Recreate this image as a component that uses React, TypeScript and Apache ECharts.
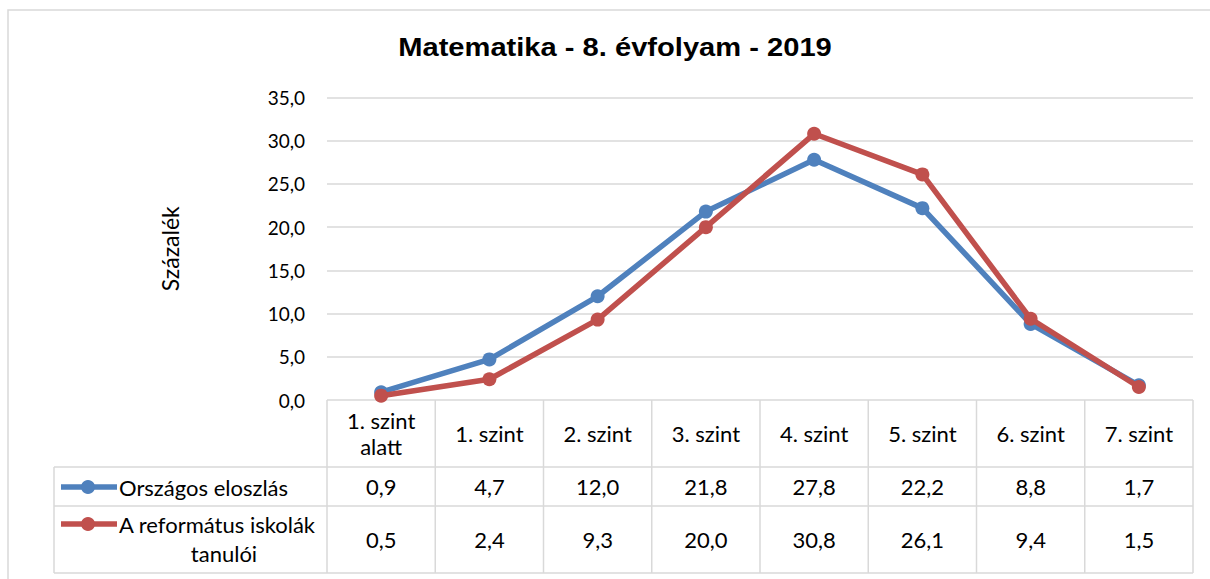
import React, { useEffect, useRef } from 'react';
import * as echarts from 'echarts';

const title = 'Matematika - 8. évfolyam - 2019';
const yAxisName = 'Százalék';
const categories = ['1. szint\nalatt', '1. szint', '2. szint', '3. szint', '4. szint', '5. szint', '6. szint', '7. szint'];
const seriesNames = ['Országos eloszlás', 'A református iskolák tanulói'];
const legendLines = [['Országos eloszlás'], ['A református iskolák', 'tanulói']];
const orszagos = [0.9, 4.7, 12.0, 21.8, 27.8, 22.2, 8.8, 1.7];
const reformatus = [0.5, 2.4, 9.3, 20.0, 30.8, 26.1, 9.4, 1.5];
const seriesColors = ['#4F81BD', '#C0504D'];
const yMin = 0;
const yMax = 35;
const yInterval = 5;

const FONT = 'Lato, "Open Sans", sans-serif';
const GRID = '#D9D9D9';
const TFS = 22;
const fmt = (v: number) => v.toFixed(1).replace('.', ',');

export default function App() {
  const ref = useRef<HTMLDivElement>(null);
  useEffect(() => {
    if (!ref.current) return;
    const chart = echarts.init(ref.current, null, { renderer: 'svg' });
    const allData = [orszagos, reformatus];
    chart.setOption({
      animation: false,
      backgroundColor: '#fff',
      grid: { left: 327, right: 17, top: 97.5, bottom: 179 },
      xAxis: {
        type: 'category',
        data: categories,
        boundaryGap: true,
        axisLine: { show: false },
        axisTick: { show: false },
        axisLabel: { show: false },
        splitLine: { show: false },
      },
      yAxis: {
        type: 'value',
        min: yMin,
        max: yMax,
        interval: yInterval,
        name: yAxisName,
        nameLocation: 'middle',
        nameGap: 146,
        nameRotate: 90,
        nameTextStyle: { fontFamily: FONT, fontSize: 23, color: '#000' },
        axisLine: { show: false },
        axisTick: { show: false },
        axisLabel: { formatter: (v: number) => fmt(v), fontFamily: FONT, fontSize: 19, color: '#000', margin: 22 },
        splitLine: { lineStyle: { color: GRID, width: 1.5 } },
      },
      series: allData.map((d, i) => ({
        name: seriesNames[i],
        type: 'line',
        data: d,
        symbol: 'circle',
        symbolSize: 14,
        lineStyle: { width: 5.5, color: seriesColors[i] },
        itemStyle: { color: seriesColors[i] },
        z: 2 + i,
      })),
    });

    const xs = categories.map((_, i) => chart.convertToPixel({ xAxisIndex: 0 }, i) as number);
    const half = (xs[1] - xs[0]) / 2;
    const y0 = chart.convertToPixel({ yAxisIndex: 0 }, 0) as number;
    const left = xs[0] - half;
    const right = xs[xs.length - 1] + half;
    const tableLeft = 54;
    const row1Top = 467;
    const row2Top = 506;
    const tableBottom = 573;
    const g: any[] = [];
    const ls = { stroke: GRID, lineWidth: 1.5 };
    // title
    g.push({
      type: 'text', x: 615, y: 47.5, scaleX: 1.12, originX: 0, originY: 0,
      style: { text: title, fontFamily: '"Liberation Sans", Arial, sans-serif', fontWeight: 'bold', fontSize: 26, fill: '#000', align: 'center', verticalAlign: 'middle' },
      z: 5,
    });
    // outer frame
    g.push({ type: 'rect', shape: { x: 8, y: 10, width: 1300, height: 700 }, style: { fill: 'none', stroke: GRID, lineWidth: 1.5 }, silent: true, z: 0 });
    // horizontal table lines
    [row1Top, row2Top, tableBottom].forEach((y) => {
      g.push({ type: 'line', shape: { x1: tableLeft, y1: y, x2: right, y2: y }, style: ls, z: 1 });
    });
    g.push({ type: 'line', shape: { x1: tableLeft, y1: row1Top, x2: tableLeft, y2: tableBottom }, style: ls, z: 1 });
    for (let i = 0; i <= xs.length; i++) {
      const x = left + i * 2 * half;
      g.push({ type: 'line', shape: { x1: x, y1: y0, x2: x, y2: tableBottom }, style: ls, z: 1 });
    }
    // header labels
    categories.forEach((c, i) => {
      g.push({
        type: 'text', x: xs[i], y: (y0 + row1Top) / 2,
        style: { text: c, fontFamily: FONT, fontSize: TFS, fill: '#000', align: 'center', verticalAlign: 'middle', lineHeight: 26 },
        z: 5,
      });
    });
    // values
    const rowCenters = [(row1Top + row2Top) / 2, (row2Top + tableBottom) / 2];
    allData.forEach((d, r) => {
      d.forEach((v, i) => {
        g.push({
          type: 'text', x: xs[i], y: rowCenters[r],
          style: { text: fmt(v), fontFamily: FONT, fontSize: TFS, fill: '#000', align: 'center', verticalAlign: 'middle' },
          z: 5,
        });
      });
    });
    // legend keys
    const keyY = [487, 524];
    keyY.forEach((y, r) => {
      g.push({ type: 'line', shape: { x1: 61, y1: y, x2: 117, y2: y }, style: { stroke: seriesColors[r], lineWidth: 5.5 }, z: 5 });
      g.push({ type: 'circle', shape: { cx: 88, cy: y, r: 7 }, style: { fill: seriesColors[r] }, z: 6 });
    });
    g.push({
      type: 'text', x: 119, y: 487,
      style: { text: legendLines[0][0], fontFamily: FONT, fontSize: TFS, fill: '#000', align: 'left', verticalAlign: 'middle' },
      z: 5,
    });
    g.push({
      type: 'text', x: 119, y: 524,
      style: { text: legendLines[1][0], fontFamily: FONT, fontSize: TFS, fill: '#000', align: 'left', verticalAlign: 'middle' },
      z: 5,
    });
    g.push({
      type: 'text', x: 224, y: 553,
      style: { text: legendLines[1][1], fontFamily: FONT, fontSize: TFS, fill: '#000', align: 'center', verticalAlign: 'middle' },
      z: 5,
    });
    chart.setOption({ graphic: g });
    return () => chart.dispose();
  }, []);
  return <div ref={ref} style={{ position: 'fixed', left: 0, top: 0, width: 1210, height: 579 }} />;
}
